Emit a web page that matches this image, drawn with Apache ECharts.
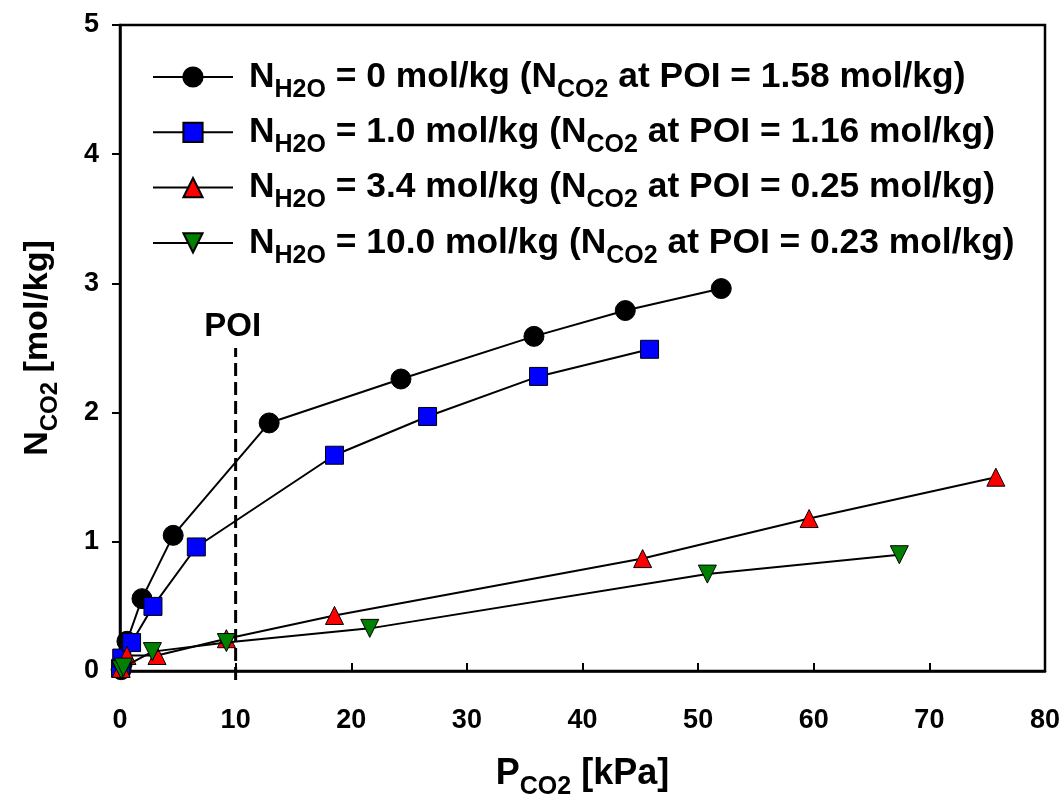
<!DOCTYPE html>
<html>
<head>
<meta charset="utf-8">
<script src="https://cdn.jsdelivr.net/npm/echarts@6/dist/echarts.min.js"></script>
<style>
html,body{margin:0;padding:0;background:#fff;}
#chart{width:1064px;height:801px;}
</style>
</head>
<body>
<div id="chart"></div>
<script>
// ---- data ----
const seriesNames = ['h0', 'h1', 'h3', 'h10'];
const legendWater = ['0', '1.0', '3.4', '10.0'];
const legendPOI = ['1.58', '1.16', '0.25', '0.23'];

const blackX = [0.1, 0.2, 0.6, 1.9, 4.6, 12.9, 24.3, 35.8, 43.7, 52.0];
const blackY = [0.01, 0.06, 0.23, 0.56, 1.05, 1.92, 2.26, 2.59, 2.79, 2.96];

const blueX = [0.05, 0.15, 1.0, 2.85, 6.6, 18.55, 26.6, 36.2, 45.8];
const blueY = [0.02, 0.10, 0.22, 0.50, 0.96, 1.67, 1.97, 2.28, 2.49];

const redX = [0.1, 0.6, 3.2, 9.2, 18.55, 45.2, 59.6, 75.75];
const redY = [0.02, 0.12, 0.12, 0.25, 0.43, 0.87, 1.18, 1.50];

const greenX = [0.1, 0.3, 2.8, 9.2, 21.6, 50.8, 67.4];
const greenY = [0.01, 0.03, 0.15, 0.22, 0.33, 0.75, 0.90];

const poiX = [10, 10];
const poiY = [-0.07, 2.5];

const xTicks = [0, 10, 20, 30, 40, 50, 60, 70, 80];
const yTicks = [0, 1, 2, 3, 4, 5];

// ---- build ----
const zip = (xs, ys) => xs.map((x, i) => [x, ys[i]]);
const FONT = '"Liberation Sans", Arial, sans-serif';

function richSet(big, small, lh, drop) {
  return {
    n0: {fontFamily: FONT, fontWeight: 'bold', fontSize: big, lineHeight: lh, color: '#000', padding: [0, 0, 0, 11]},
    n: {fontFamily: FONT, fontWeight: 'bold', fontSize: big, lineHeight: lh, color: '#000'},
    s: {fontFamily: FONT, fontWeight: 'bold', fontSize: small, lineHeight: 6, verticalAlign: 'top',
        padding: [lh / 2 + drop - small / 2, 0, 0, 0], color: '#000'}
  };
}

const styles = [
  {symbol: 'circle', size: 20, color: '#000000', rotate: 0},
  {symbol: 'rect', size: 18, color: '#0000ff', rotate: 0},
  {symbol: 'triangle', size: 18, color: '#ff0000', rotate: 0},
  {symbol: 'triangle', size: 18, color: '#008000', rotate: 180}
];
const datas = [zip(blackX, blackY), zip(blueX, blueY), zip(redX, redY), zip(greenX, greenY)];

const series = datas.map((d, i) => ({
  name: seriesNames[i],
  type: 'line',
  data: d,
  clip: false,
  symbol: styles[i].symbol,
  symbolSize: styles[i].size,
  symbolRotate: styles[i].rotate,
  showAllSymbol: true,
  z: 10 + i,
  lineStyle: {color: '#000', width: 2},
  itemStyle: {color: styles[i].color, borderColor: '#000', borderWidth: 1, opacity: 1},
  emphasis: {disabled: true},
  animation: false
}));

series.push({
  name: 'POI',
  type: 'line',
  data: [
    {value: [poiX[0], poiY[0]]},
    {value: [poiX[1], poiY[1]], label: {show: true, position: 'top', distance: 4, offset: [-3, 0], formatter: 'POI',
      fontFamily: FONT, fontWeight: 'bold', fontSize: 33, color: '#000'}}
  ],
  clip: false,
  symbol: 'circle',
  symbolSize: 1,
  showAllSymbol: true,
  itemStyle: {color: 'rgba(0,0,0,0)', borderWidth: 0},
  z: 5,
  lineStyle: {color: '#000', width: 3, type: [13, 6]},
  emphasis: {disabled: true},
  animation: false
});

const option = {
  backgroundColor: '#fff',
  animation: false,
  grid: {left: 120, right: 19, top: 25, bottom: 130, containLabel: false, outerBoundsMode: 'none',
         show: true, borderColor: '#000', borderWidth: 2.5, backgroundColor: 'transparent'},
  xAxis: {
    type: 'value', min: xTicks[0], max: xTicks[xTicks.length - 1], interval: 10,
    axisLine: {lineStyle: {color: '#000', width: 2.5}},
    axisTick: {inside: true, length: 8, lineStyle: {color: '#000', width: 2}},
    splitLine: {show: false},
    axisLabel: {margin: 36, fontFamily: FONT, fontWeight: 'bold', fontSize: 27, color: '#000'},
    name: '{n|P}{s|CO2}{n| [kPa]}',
    nameLocation: 'middle', nameGap: 84,
    nameTextStyle: {rich: richSet(36, 25, 38, 13)}
  },
  yAxis: {
    type: 'value', min: yTicks[0], max: yTicks[yTicks.length - 1], interval: 1,
    axisLine: {lineStyle: {color: '#000', width: 2.5}},
    axisTick: {inside: false, length: 8, lineStyle: {color: '#000', width: 2}},
    splitLine: {show: false},
    axisLabel: {margin: 21, fontFamily: FONT, fontWeight: 'bold', fontSize: 27, color: '#000'},
    name: '{n|N}{s|CO2}{n| [mol/kg]}',
    nameLocation: 'middle', nameRotate: 90, nameGap: 64,
    nameTextStyle: {rich: richSet(34, 24, 36, 12)}
  },
  legend: {
    data: seriesNames,
    orient: 'vertical',
    left: 152, top: 59,
    padding: 0,
    itemWidth: 80, itemHeight: 24,
    itemGap: 11.8,
    selectedMode: false,
    formatter: function (name) {
      const i = seriesNames.indexOf(name);
      return '{n0|N}{s|H2O}{n| = ' + legendWater[i] + ' mol/kg (N}{s|CO2}{n| at POI = ' + legendPOI[i] + ' mol/kg)}';
    },
    textStyle: {rich: richSet(35.4, 25, 36, 13)}
  },
  series: series
};

const chart = echarts.init(document.getElementById('chart'), null, {renderer: 'canvas'});
chart.setOption(option);
</script>
</body>
</html>
